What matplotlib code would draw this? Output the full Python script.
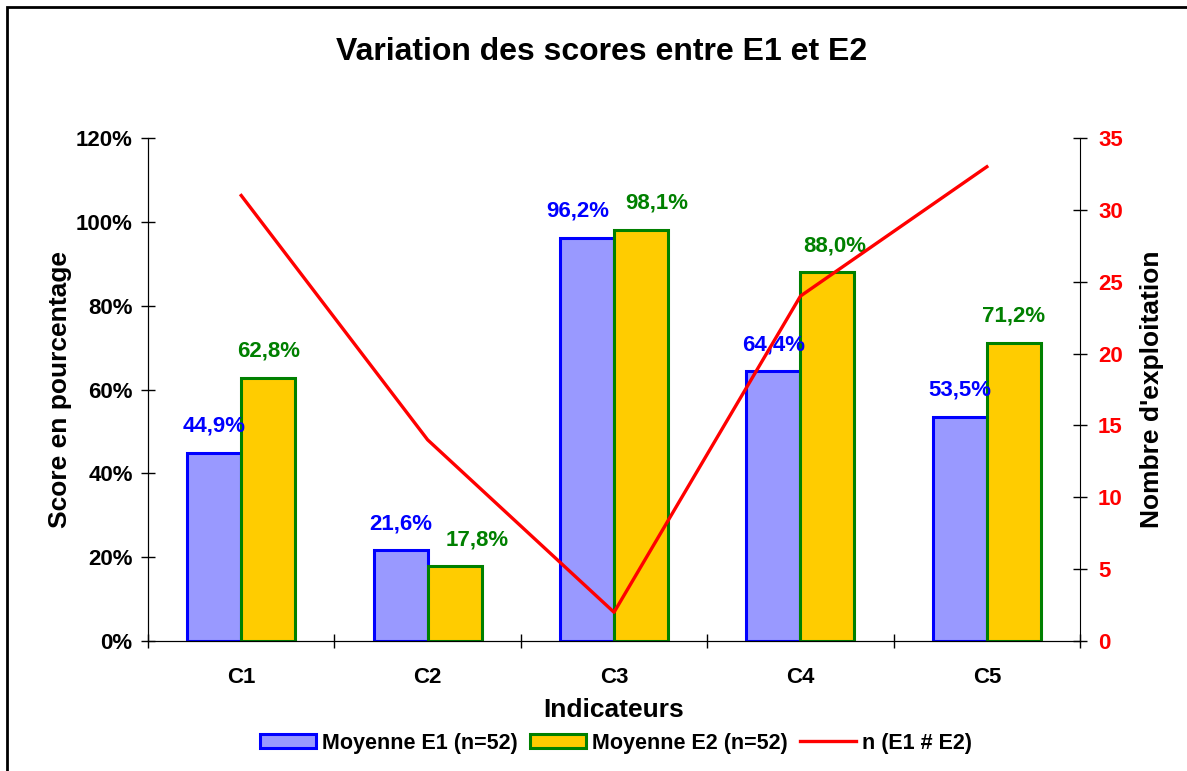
import numpy as np
import matplotlib.pyplot as plt
from matplotlib.patches import Rectangle

plt.rcParams['font.family'] = ['Liberation Sans', 'DejaVu Sans']
plt.rcParams['font.weight'] = 'bold'

categories = ['C1', 'C2', 'C3', 'C4', 'C5']
moy_e1 = [44.9, 21.6, 96.2, 64.4, 53.5]
moy_e2 = [62.8, 17.8, 98.1, 88.0, 71.2]
n_diff = [31, 14, 2, 24, 33]

fig = plt.figure(figsize=(11.87, 7.71), dpi=100)
ax = fig.add_axes([0.1247, 0.1686, 0.7852, 0.6524])

x = np.arange(len(categories))
w = 0.29
ax.bar(x - w / 2, moy_e1, w, color='#9999ff', edgecolor='#0000ff', linewidth=2.2,
       label='Moyenne E1 (n=52)', zorder=2)
ax.bar(x + w / 2, moy_e2, w, color='#ffcc00', edgecolor='#008000', linewidth=2.2,
       label='Moyenne E2 (n=52)', zorder=2)

# labels sit above each bar; some are nudged sideways so neighbours don't collide
shift_e1 = [0, 0, -7, 0, 0]
shift_e2 = [0, 16, 11, 5, 0]
for xi, v, dx in zip(x, moy_e1, shift_e1):
    ax.annotate(f'{v:.1f}%'.replace('.', ','), (xi - w / 2, v), xytext=(dx, 19),
                textcoords='offset points', ha='center', va='center',
                color='#0000ff', fontsize=16, fontweight='bold', zorder=5)
for xi, v, dx in zip(x, moy_e2, shift_e2):
    ax.annotate(f'{v:.1f}%'.replace('.', ','), (xi + w / 2, v), xytext=(dx, 19),
                textcoords='offset points', ha='center', va='center',
                color='#008000', fontsize=16, fontweight='bold', zorder=5)

ax.set_xlim(-0.5, 4.5)
ax.set_ylim(0, 120)
ax.set_yticks(np.arange(0, 121, 20))
ax.set_yticklabels([f'{t}%' for t in range(0, 121, 20)], fontsize=16, fontweight='bold')
ax.set_xticks(np.arange(-0.5, 4.6, 1))
ax.set_xticklabels([])
ax.set_xticks(x, minor=True)
ax.set_xticklabels(categories, minor=True, fontsize=16, fontweight='bold')
ax.tick_params(axis='x', which='minor', length=0, pad=19)
ax.tick_params(axis='x', which='major', direction='inout', length=10, width=1)
ax.tick_params(axis='y', direction='inout', length=10, width=1, pad=6)
ax.spines['top'].set_visible(False)
ax.spines['right'].set_visible(False)
ax.set_xlabel('Indicateurs', fontsize=19, fontweight='bold', labelpad=7)
ax.set_ylabel('Score en pourcentage', fontsize=19, fontweight='bold', labelpad=3)

ax2 = ax.twinx()
ax2.plot(x, n_diff, color='#ff0000', linewidth=2.4, label='n (E1 # E2)', zorder=4)
ax2.set_ylim(0, 35)
ax2.set_yticks(np.arange(0, 36, 5))
ax2.tick_params(axis='y', direction='inout', length=10, width=1, colors='black',
                labelcolor='#ff0000', labelsize=16, pad=8)
for lab in ax2.get_yticklabels():
    lab.set_fontweight('bold')
ax2.spines['top'].set_visible(False)
ax2.set_ylabel("Nombre d'exploitation", fontsize=19, fontweight='bold', labelpad=12)

fig.text(0.507, 0.932, 'Variation des scores entre E1 et E2', ha='center', va='center',
         fontsize=23, fontweight='bold')

h1, l1 = ax.get_legend_handles_labels()
h2, l2 = ax2.get_legend_handles_labels()
fig.legend(h1 + h2, l1 + l2, loc='center', bbox_to_anchor=(0.519, 0.036), ncol=3,
           frameon=False, handlelength=2.6, handleheight=0.65,
           handletextpad=0.3, columnspacing=0.55,
           prop={'weight': 'bold', 'size': 15.5})

fig.patches.append(Rectangle((7 / 1187, -0.1), 1.2, 1 - 7 / 771 + 0.1,
                             transform=fig.transFigure, fill=False,
                             edgecolor='black', linewidth=2))

fig.savefig('out.png', dpi=100)
